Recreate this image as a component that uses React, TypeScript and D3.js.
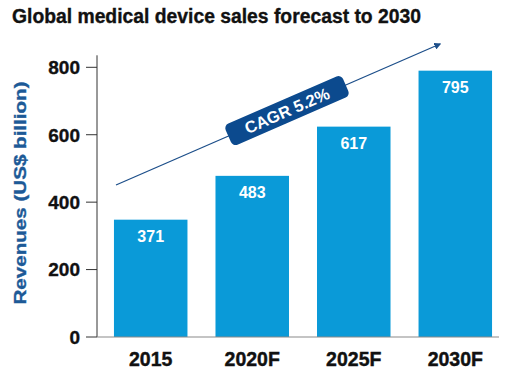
import React from "react";
import * as d3 from "d3";

const categories = ["2015", "2020F", "2025F", "2030F"];
const valueLabels = [371, 483, 617, 795];
const barHeights = [348, 478, 624, 790];
const yTicks = [0, 200, 400, 600, 800];
const title = "Global medical device sales forecast to 2030";
const yTitle = "Revenues (US$ billion)";
const cagrLabel = "CAGR 5.2%";

const W = 511;
const H = 376;
const FONT = "'Liberation Sans', Arial, Helvetica, sans-serif";

export default function App() {
  const x = d3
    .scaleBand<string>()
    .domain(categories)
    .range([97, 509])
    .paddingInner(0.276)
    .paddingOuter(0.167);
  const y = d3.scaleLinear().domain([0, 800]).range([337, 67.3]);

  const ax0 = [116, 185];
  const ax1 = [440, 44];
  const angle = (Math.atan2(ax1[1] - ax0[1], ax1[0] - ax0[0]) * 180) / Math.PI;
  const cx = 287;
  const cy = ax0[1] + ((cx - ax0[0]) * (ax1[1] - ax0[1])) / (ax1[0] - ax0[0]);

  return (
    <svg
      width={W}
      height={H}
      style={{ position: "absolute", left: 0, top: 0, background: "#fff" }}
      fontFamily={FONT}
    >
      <defs>
        <marker
          id="ah"
          viewBox="0 0 10 10"
          refX="8"
          refY="5"
          markerWidth="7"
          markerHeight="7"
          orient="auto"
          markerUnits="userSpaceOnUse"
        >
          <path d="M0,0 L10,5 L0,10 z" fill="#1d4f8a" />
        </marker>
      </defs>
      <text
        x={12}
        y={23}
        fontSize={20}
        fontWeight="bold"
        fill="#111"
        stroke="#111"
        strokeWidth={0.35}
        textLength={409}
        lengthAdjust="spacingAndGlyphs"
      >
        {title}
      </text>

      {/* y axis title */}
      <text
        transform={`translate(26,193) rotate(-90)`}
        textAnchor="middle"
        fontSize={17}
        fontWeight="bold"
        fill="#1d5a97"
        stroke="#1d5a97"
        strokeWidth={0.35}
        textLength={223}
        lengthAdjust="spacingAndGlyphs"
      >
        {yTitle}
      </text>

      {/* bars */}
      {categories.map((c, i) => (
        <rect
          key={c}
          x={x(c)}
          y={y(barHeights[i])}
          width={x.bandwidth()}
          height={y(0) - y(barHeights[i])}
          fill="#0a9ad8"
        />
      ))}
      {categories.map((c, i) => (
        <text
          key={c + "v"}
          x={(x(c) as number) + x.bandwidth() / 2}
          y={y(barHeights[i]) + 22.5}
          textAnchor="middle"
          fontSize={16}
          fontWeight="bold"
          fill="#fff"
        >
          {valueLabels[i]}
        </text>
      ))}

      {/* y axis */}
      <line x1={97} x2={97} y1={y(800) - 12} y2={y(0)} stroke="#333" strokeWidth={1} />
      {yTicks.map((t) => (
        <g key={t}>
          <line x1={86} x2={97} y1={y(t)} y2={y(t)} stroke="#333" strokeWidth={1} />
          <text
            x={80}
            y={y(t)}
            dy="0.36em"
            textAnchor="end"
            fontSize={19}
            fontWeight="bold"
            fill="#111"
            stroke="#111"
            strokeWidth={0.35}
          >
            {t}
          </text>
        </g>
      ))}

      {/* x axis */}
      <line x1={97} x2={499} y1={y(0)} y2={y(0)} stroke="#8a8a8a" strokeWidth={1.2} />
      {categories.map((c) => (
        <text
          key={c + "l"}
          x={(x(c) as number) + x.bandwidth() / 2}
          y={366}
          textAnchor="middle"
          fontSize={19.5}
          fontWeight="bold"
          fill="#111"
          stroke="#111"
          strokeWidth={0.4}
        >
          {c}
        </text>
      ))}

      {/* CAGR arrow */}
      <line
        x1={ax0[0]}
        y1={ax0[1]}
        x2={ax1[0]}
        y2={ax1[1]}
        stroke="#1d4f8a"
        strokeWidth={1.3}
        markerEnd="url(#ah)"
      />
      <g transform={`translate(${cx},${cy}) rotate(${angle})`}>
        <rect x={-64} y={-11.5} width={128} height={23} rx={5} fill="#0c4a8e" />
        <text
          x={0}
          y={0}
          dy="0.36em"
          textAnchor="middle"
          fontSize={16.5}
          fontWeight="bold"
          fill="#fff"
        >
          {cagrLabel}
        </text>
      </g>
    </svg>
  );
}
